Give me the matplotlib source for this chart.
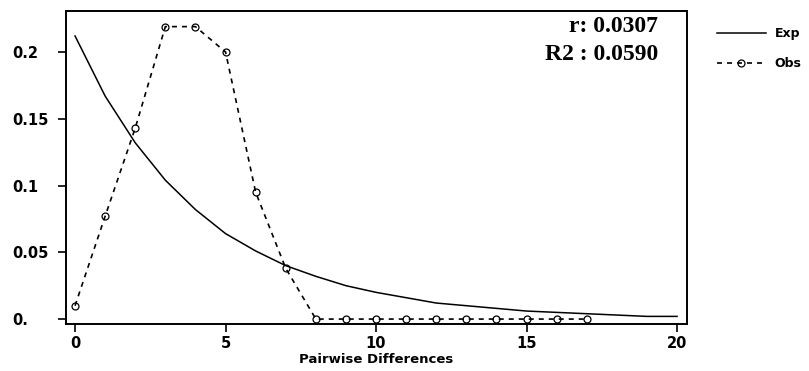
import matplotlib
matplotlib.use("Agg")
import matplotlib.pyplot as plt

# pairwise differences (x) and frequencies
x_exp = list(range(0, 21))
y_exp = [0.212, 0.167, 0.132, 0.104, 0.082, 0.064, 0.051, 0.040, 0.032, 0.025,
         0.020, 0.016, 0.012, 0.010, 0.008, 0.006, 0.005, 0.004, 0.003, 0.002, 0.002]

x_obs = list(range(0, 18))
y_obs = [0.010, 0.077, 0.143, 0.219, 0.219, 0.200, 0.095, 0.038, 0.0, 0.0,
         0.0, 0.0, 0.0, 0.0, 0.0, 0.0, 0.0, 0.0]

x_ticks = [0, 5, 10, 15, 20]
y_ticks = [0, 0.05, 0.1, 0.15, 0.2]
y_tick_labels = ["0.", "0.05", "0.1", "0.15", "0.2"]

stats = ["r: 0.0307", "R2 : 0.0590"]
# legend labels are cut by the right edge in the original
legend_labels = ["Exp", "Obs"]

fig = plt.figure(figsize=(8.09, 3.71), dpi=100)
ax = fig.add_axes([66 / 809, 47 / 371, 621 / 809, 313 / 371])

ax.plot(x_exp, y_exp, color="black", lw=1.1, label=legend_labels[0])
ax.plot(x_obs, y_obs, color="black", lw=1.2, ls=(0, (3, 3)),
        marker="o", ms=5, mew=0.9, fillstyle="none", label=legend_labels[1])

ax.set_xlim(-0.3, 20.33)
ax.set_ylim(-0.0037, 0.2307)
ax.set_xticks(x_ticks)
ax.set_yticks(y_ticks)
ax.set_yticklabels(y_tick_labels)

for s in ["top", "right", "left", "bottom"]:
    ax.spines[s].set_linewidth(1.4)

ax.tick_params(axis="both", length=6, width=1.2, direction="out")
ax.tick_params(axis="x", pad=3)
ax.tick_params(axis="y", pad=33)
for lab in ax.get_xticklabels() + ax.get_yticklabels():
    lab.set_family("DejaVu Sans")
    lab.set_fontweight("bold")
    lab.set_fontsize(10.5)
for lab in ax.get_yticklabels():
    lab.set_horizontalalignment("left")

ax.set_xlabel("Pairwise Differences", fontsize=9.5, fontweight="bold",
              family="DejaVu Sans", labelpad=1)

ax.text(0.953, 0.952, stats[0], transform=ax.transAxes, ha="right", va="center",
        family="Liberation Serif", fontweight="bold", fontsize=17)
ax.text(0.953, 0.862, stats[1], transform=ax.transAxes, ha="right", va="center",
        family="Liberation Serif", fontweight="bold", fontsize=17)

ax.legend(loc="upper left", bbox_to_anchor=(1.03, 0.985), frameon=False,
          handlelength=3.9, handletextpad=0.7, labelspacing=1.4,
          prop={"family": "DejaVu Sans", "weight": "bold", "size": 9})

fig.savefig("out.png", dpi=100)
